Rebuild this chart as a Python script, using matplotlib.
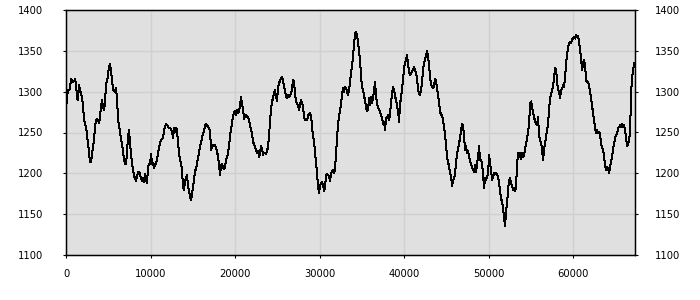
import numpy as np
import matplotlib
matplotlib.use('Agg')
import matplotlib.pyplot as plt

# values, one per screen pixel, left to right
seg1 = [1278,1294,1302,1302,1303,1316,1314,1312,1313,1315,1310,1292,1290,1308,1302,1298,1293,1282,1267,1261,
        1257,1247,1237,1225,1214,1214,1223,1231,1241,1257,1265,1267,1265,1261,1269,1282,1290,1282,1278,1286,
        1310,1313,1320,1331,1334,1325,1314,1303,1301,1299,1304,1292,1267,1258,1252,1241,1236,1227,1217,1212,
        1212,1225,1245,1253,1237,1225,1212,1205,1198,1193,1191,1197,1201,1202,1199,1194,1190,1194,1189,1199,
        1192,1188,1207,1212,1211,1224,1211,1213,1206,1210,1213,1216,1225,1231]
seg2 = [1237,1241,1242,1243,1253,1258,1260,1259,1258,1255,1256,1253,1251,1243,1255,1251,1256,1253,1237,1225,
        1216,1212,1204,1182,1180,1190,1194,1198,1184,1178,1172,1167,1174,1184,1192,1204,1204,1212,1220,1225,
        1233,1237,1243,1249,1252,1258,1261,1259,1257,1255,1253,1229,1233,1235,1233,1235,1231,1227,1220,1210,
        1198,1210,1212,1208,1205,1208,1216,1220,1225,1233,1245,1255,1261,1271,1274,1276,1271,1278,1274,1276,
        1284,1293,1286,1278,1267,1269,1271,1269,1269,1265,1259,1253,1249,1237]
seg3 = [1237,1231,1229,1225,1227,1220,1225,1233,1229,1223,1225,1225,1224,1227,1233,1245,1265,1278,1288,1292,
        1298,1302,1294,1288,1306,1310,1314,1316,1318,1314,1306,1302,1294,1292,1296,1293,1296,1298,1304,1314,
        1312,1298,1288,1286,1282,1278,1284,1290,1286,1282,1269,1265,1267,1265,1270,1273,1274,1270,1257,1245,
        1239,1225,1212,1200,1184,1176,1184,1188,1189,1186,1178,1184,1198,1199,1198,1196,1190,1200,1202,1204,
        1200,1206,1225,1245,1261,1269,1278,1284,1298,1304,1300,1306,1304,1300]
seg4 = [1296,1302,1312,1322,1331,1343,1359,1371,1373,1369,1361,1349,1339,1318,1306,1302,1294,1290,1280,1276,
        1278,1292,1284,1294,1286,1292,1302,1312,1294,1286,1280,1278,1276,1271,1267,1261,1263,1253,1267,1269,
        1271,1265,1274,1286,1298,1306,1302,1294,1290,1282,1276,1263,1286,1292,1304,1314,1329,1335,1339,1345,
        1333,1325,1320,1322,1325,1327,1330,1327,1322,1316,1302,1298,1296,1302,1312,1327,1335,1339,1345,1350,
        1343,1333,1318,1308,1306,1304,1308,1316,1312,1304,1296,1286,1276,1271]
seg5 = [1271,1265,1257,1247,1233,1220,1214,1208,1200,1196,1184,1192,1194,1200,1212,1225,1229,1237,1243,1253,
        1261,1259,1245,1229,1233,1225,1227,1220,1216,1210,1208,1204,1202,1210,1202,1212,1220,1233,1216,1216,
        1212,1198,1182,1194,1192,1196,1200,1223,1212,1204,1192,1196,1200,1199,1201,1198,1196,1188,1178,1169,
        1165,1157,1145,1136,1155,1163,1180,1192,1194,1188,1184,1180,1182,1178,1184,1212,1225,1220,1225,1218,
        1225,1220,1223,1229,1237,1243,1251,1261,1286,1288,1282,1274,1269,1263]
seg6 = [1261,1259,1269,1245,1241,1237,1229,1216,1229,1237,1245,1253,1261,1278,1292,1296,1302,1306,1318,1329,
        1327,1312,1302,1300,1292,1302,1304,1308,1306,1318,1335,1345,1355,1360,1361,1359,1364,1365,1367,1365,
        1369,1367,1368,1359,1351,1339,1327,1335,1339,1331,1314,1312,1312,1306,1300,1292,1282,1274,1265,1255,
        1249,1253,1249,1251,1247,1237,1231,1229,1220,1210,1204,1208,1206,1200,1208,1214,1220,1231,1237,1243,
        1247,1249,1255,1257,1259,1257,1261,1257,1259,1253,1243,1233,1237,1239,1253,1298,1318,1327,1335]

values = np.array(seg1 + seg2 + seg3 + seg4 + seg5 + seg6)
x_end = 67180
x = np.linspace(0, x_end, len(values))

x_ticks = [0, 10000, 20000, 30000, 40000, 50000, 60000]
y_ticks = [1100, 1150, 1200, 1250, 1300, 1350, 1400]

fig = plt.figure(figsize=(7, 3), dpi=100)
ax = fig.add_axes([66/700, 45/300, 568.7/700, 245/300])
ax.set_facecolor('#e0e0e0')
ax.plot(x, values, color='black', linewidth=0.72, antialiased=False)

ax.set_xlim(0, 67250)
ax.set_ylim(1100, 1400)
ax.set_xticks(x_ticks)
ax.set_yticks(y_ticks)
ax.grid(True, color='#d0d0d0', linewidth=1)
ax.set_axisbelow(True)

for s in ax.spines.values():
    s.set_color('black')
    s.set_linewidth(1)

ax.tick_params(axis='x', direction='out', length=2.2, pad=8, labelsize=7.2)
ax.tick_params(axis='y', direction='out', length=2.2, pad=14.4, labelsize=7.2)

# right-hand copy of the value axis
ax2 = ax.twinx()
ax2.set_ylim(1100, 1400)
ax2.set_yticks(y_ticks)
ax2.tick_params(axis='y', direction='out', length=2.2, pad=12.5, labelsize=7.2)

plt.savefig('out.png', dpi=100)
